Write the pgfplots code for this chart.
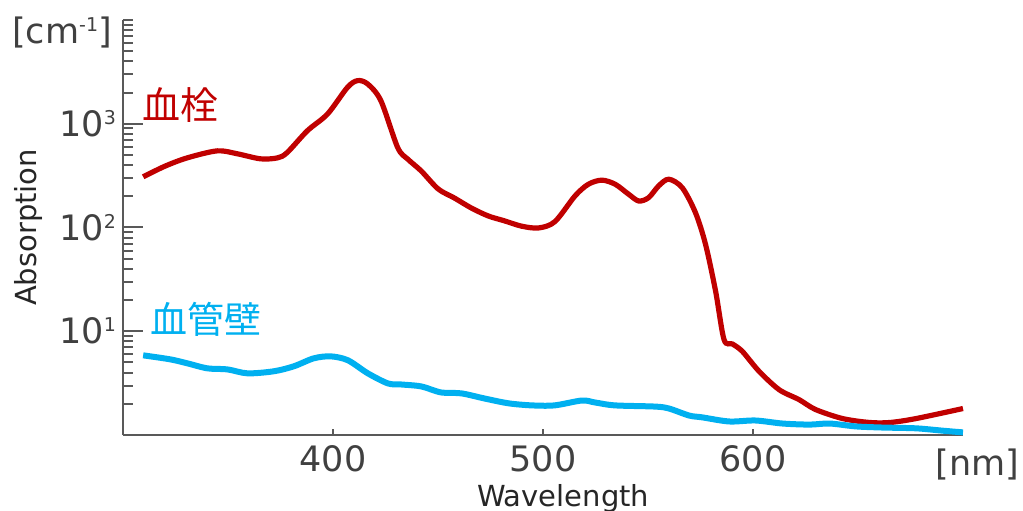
\documentclass[border=0pt]{standalone}
\usepackage{pgfplots}
\pgfplotsset{compat=1.18}
\usepackage{fontspec}
\setmainfont{DejaVu Sans}
\newfontfamily\jp{Noto Sans CJK JP}
\definecolor{myred}{HTML}{C00000}
\definecolor{myblue}{HTML}{00B0F0}
\definecolor{txt}{HTML}{404040}
\definecolor{lbl}{HTML}{262626}
\definecolor{axc}{HTML}{595959}
\newcommand{\sP}[1]{\raisebox{6pt}{\fontsize{9.5}{9.5}\selectfont #1}}
\begin{document}
\begin{tikzpicture}
\path[use as bounding box] (-61.5pt,-37.5pt) rectangle (450pt,217.5pt);
\begin{axis}[
  at={(0,0)}, anchor=south west,
  scale only axis, width=420pt, height=207.5pt,
  xmin=300, xmax=700, ymode=log, ymin=1, ymax=10000,
  clip=false,
  axis x line*=bottom, axis y line*=left,
  axis line style={axc, line width=1pt},
  tick align=inside,
  major tick length=10pt, minor tick length=5pt,
  xtick={400,500,600},
  xticklabels={400,500,600},
  ytick={10,100,1000},
  yticklabels={10\sP{1},10\sP{2},10\sP{3}},
  minor ytick={2,3,4,5,6,7,8,9,20,30,40,50,60,70,80,90,200,300,400,500,600,700,800,900,2000,3000,4000,5000,6000,7000,8000,9000,10000},
  ytick style={axc, line width=1pt},
  xtick style={axc, line width=1pt, /pgfplots/major tick length=3pt},
  tick label style={text=txt, font=\fontsize{17.5}{17.5}\selectfont},
  xticklabel style={yshift=-1.5pt},
]
\addplot[myred, line width=2.6pt, smooth, tension=0.5] coordinates {
(309.6,308) (320,390) (330.6,469) (344.9,548) (354.5,513) (365.5,459) (373.6,469)
(378.2,528) (387.8,856) (397.4,1241) (406.9,2243) (411.7,2603) (416.5,2418) (422.8,1668)
(430.8,590) (435.6,456) (442,351) (450.1,235) (457.7,193) (465.9,154) (474,129)
(481.6,116) (489.8,103) (497.9,99) (505.7,114) (515.3,202) (521.6,261) (528,286)
(534.4,261) (540.8,209) (545.6,180) (550.3,194) (555.1,252) (559.9,292) (566.3,242)
(572.6,139) (577.4,68.8) (582.2,24.3) (586.2,8.32) (590.2,7.54) (594.9,6.41)
(602.9,4.11) (612.5,2.73) (622,2.19) (629.8,1.76) (642.7,1.44) (655.6,1.32)
(665.2,1.32) (677.6,1.44) (700,1.80)
};
\addplot[myblue, line width=3pt, smooth, tension=0.5] coordinates {
(309.6,5.86) (322.5,5.36) (330.6,4.91) (340.2,4.39) (349.7,4.29) (359.3,3.93)
(371.7,4.11) (381.3,4.59) (390.8,5.48) (398.9,5.73) (407.1,5.25) (416.6,3.93)
(426.2,3.14) (432.4,3.07) (442,2.94) (451.5,2.57) (461.1,2.52) (472.1,2.25)
(483.6,2.02) (494.6,1.93) (505.5,1.93) (518.5,2.15) (524.7,2.06) (534.2,1.93)
(553.3,1.88) (560,1.80) (569.6,1.54) (575.8,1.48) (588.7,1.35) (601.1,1.38)
(614.1,1.29) (627,1.26) (636.5,1.29) (649,1.21) (661.9,1.18) (677.6,1.16)
(690.5,1.10) (700,1.06)
};
\node[anchor=west, inner sep=0, text=myred, font=\jp\fontsize{19}{19}\selectfont] at (axis cs:309.1,1527) {血栓};
\node[anchor=west, inner sep=0, text=myblue, font=\jp\fontsize{18.5}{18.5}\selectfont] at (axis cs:312.9,12.9) {血管壁};
\node[anchor=center, inner sep=0, text=txt, font=\fontsize{17.5}{17.5}\selectfont] at ([xshift=7.25pt,yshift=-15pt]rel axis cs:1,0) {[nm]};
\node[anchor=center, inner sep=0, text=txt, font=\fontsize{17.5}{17.5}\selectfont] at ([xshift=-30.5pt,yshift=-6.5pt]rel axis cs:0,1) {[cm\sP{-1}]};
\node[anchor=base, inner sep=0, text=lbl, font=\fontsize{14.5}{14.5}\selectfont] at ([yshift=-35.5pt]rel axis cs:0.524,0) {Wavelength};
\node[anchor=center, rotate=90, inner sep=0, text=lbl, font=\fontsize{14.5}{14.5}\selectfont] at ([xshift=-47pt]rel axis cs:0,0.5) {Absorption};
\end{axis}
\end{tikzpicture}
\end{document}
